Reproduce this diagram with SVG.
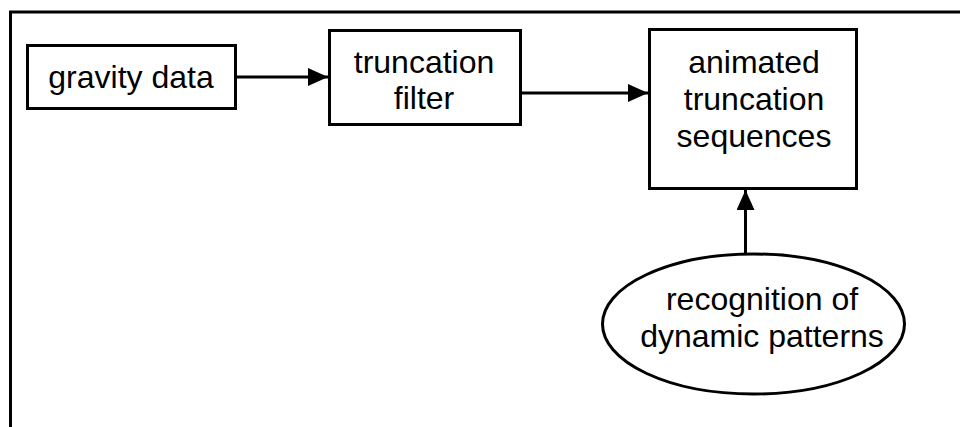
<svg xmlns="http://www.w3.org/2000/svg" width="960" height="427" viewBox="0 0 960 427">
<style>
.box{fill:#fff;stroke:#000;stroke-width:3}
.lbl{font-family:"Liberation Sans",Arial,sans-serif;font-size:32px;text-anchor:middle;fill:#000}
.conn{stroke:#000;stroke-width:3;fill:none}
</style>
<defs>
<marker id="ah" markerUnits="userSpaceOnUse" markerWidth="20" markerHeight="18" refX="20" refY="9" orient="auto">
<path d="M0,0 L20,9 L0,18 Z" fill="#000"/>
</marker>
</defs>
<rect width="960" height="427" fill="#fff"/>
<g id="frame">
<path d="M10.5,427 V12 H960" class="conn"/>
</g>
<g id="connectors">
<line x1="237" y1="77" x2="328" y2="77" class="conn" marker-end="url(#ah)"/>
<line x1="522" y1="93" x2="648" y2="93" class="conn" marker-end="url(#ah)"/>
<line x1="745.5" y1="253" x2="745.5" y2="190" class="conn" marker-end="url(#ah)"/>
</g>
<g id="gravity">
<rect x="27.5" y="45.5" width="208" height="63" class="box"/>
<text x="131" y="88" class="lbl">gravity data</text>
</g>
<g id="filter">
<rect x="329.5" y="30.5" width="191" height="94" class="box"/>
<text x="424" y="73" class="lbl">truncation</text>
<text x="424" y="109" class="lbl">filter</text>
</g>
<g id="animated">
<rect x="649.5" y="29.5" width="207" height="159" class="box"/>
<text x="754" y="73" class="lbl">animated</text>
<text x="754" y="110" class="lbl">truncation</text>
<text x="754" y="147" class="lbl">sequences</text>
</g>
<g id="recognition">
<ellipse cx="753.5" cy="324" rx="151" ry="70" class="box"/>
<text x="762" y="310" class="lbl">recognition of</text>
<text x="762" y="347" class="lbl">dynamic patterns</text>
</g>
</svg>
